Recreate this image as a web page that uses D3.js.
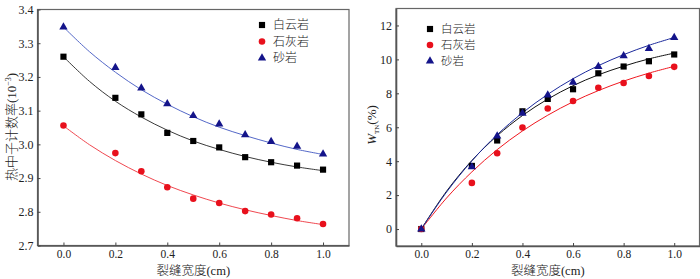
<!DOCTYPE html>
<html><head><meta charset="utf-8">
<script src="https://cdn.jsdelivr.net/npm/d3@7"></script>
<style>
html,body{margin:0;padding:0;background:#fff;}
svg{display:block;}
text{font-family:"Liberation Serif","Times New Roman",serif;fill:#222;}
.cjk{font-family:"Noto Sans CJK SC","Liberation Serif",serif;}
</style></head>
<body>
<svg id="c" width="700" height="279"></svg>
<script>
// ---- data ----
const seriesNames = ["白云岩", "石灰岩", "砂岩"];
const widths = [0, 0.2, 0.3, 0.4, 0.5, 0.6, 0.7, 0.8, 0.9, 1.0];
// thermal neutron count rate (10^-3)
const countDolomite  = [3.260, 3.138, 3.089, 3.034, 3.010, 2.991, 2.962, 2.947, 2.937, 2.925];
const countLimestone = [3.056, 2.974, 2.920, 2.873, 2.839, 2.826, 2.802, 2.792, 2.781, 2.764];
const countSandstone = [3.348, 3.228, 3.167, 3.120, 3.085, 3.060, 3.028, 3.008, 2.994, 2.971];
// W_TN (%)
const wDolomite  = [0, 3.72, 5.22, 6.94, 7.67, 8.24, 9.18, 9.58, 9.89, 10.29];
const wLimestone = [0, 2.72, 4.47, 5.99, 7.11, 7.55, 8.33, 8.61, 9.02, 9.56];
const wSandstone = [0, 3.66, 5.48, 6.82, 7.90, 8.65, 9.58, 10.21, 10.64, 11.29];
// fitted curves
const fitX = [0, 0.1, 0.2, 0.3, 0.4, 0.5, 0.6, 0.7, 0.8, 0.9, 1.0];
const fitCountDolomite  = [3.260, 3.187, 3.128, 3.081, 3.042, 3.010, 2.985, 2.964, 2.947, 2.933, 2.922];
const fitCountLimestone = [3.055, 2.999, 2.952, 2.912, 2.878, 2.850, 2.826, 2.806, 2.789, 2.774, 2.762];
const fitCountSandstone = [3.348, 3.275, 3.214, 3.162, 3.119, 3.082, 3.051, 3.026, 3.004, 2.985, 2.970];
const fitWDolomite  = [0, 2.23, 4.04, 5.50, 6.69, 7.66, 8.45, 9.09, 9.60, 10.03, 10.37];
const fitWLimestone = [0, 1.83, 3.37, 4.68, 5.78, 6.71, 7.50, 8.16, 8.72, 9.19, 9.59];
const fitWSandstone = [0, 2.18, 4.02, 5.56, 6.85, 7.94, 8.86, 9.63, 10.28, 10.83, 11.29];
const xTicks = [0, 0.2, 0.4, 0.6, 0.8, 1.0];
const countTicks = [2.7, 2.8, 2.9, 3.0, 3.1, 3.2, 3.3, 3.4];
const wTicks = [0, 2, 4, 6, 8, 10, 12];

// ---- style ----
const markerColors = ["#000000", "#e8101c", "#14148a"];
const leftLineColors = ["#3a3a3a", "#f04850", "#5468c8"];
const rightLineColors = ["#111111", "#f01820", "#1c2a9c"];
const symbols = [d3.symbolSquare, d3.symbolCircle, d3.symbolTriangle];
const symSizes = [38, 34, 30];

const svg = d3.select("#c");

function panel(cfg) {
  const g = svg.append("g");
  const x = d3.scaleLinear().domain([-0.1, 1.1]).range([cfg.left, cfg.right]);
  const y = d3.scaleLinear().domain(cfg.yDomain).range([cfg.bottom, cfg.top]);

  // frame
  g.append("rect").attr("x", cfg.left).attr("y", cfg.top)
    .attr("width", cfg.right - cfg.left).attr("height", cfg.bottom - cfg.top)
    .attr("fill", "none").attr("stroke", "#666").attr("stroke-width", 1.2);

  const xAxis = d3.axisBottom(x).tickValues(xTicks).tickFormat(d3.format(".1f"))
    .tickSizeInner(-3).tickSizeOuter(0).tickPadding(4);
  const xa = g.append("g").attr("transform", `translate(0,${cfg.bottom})`).call(xAxis);
  const yAxis = d3.axisLeft(y).tickValues(cfg.yTicks).tickFormat(cfg.yFormat)
    .tickSizeInner(-3).tickSizeOuter(0).tickPadding(4);
  const ya = g.append("g").attr("transform", `translate(${cfg.left},0)`).call(yAxis);
  [xa, ya].forEach(a => {
    a.select(".domain").attr("stroke", "#555").attr("stroke-width", 1.6);
    a.selectAll(".tick line").attr("stroke", "#444").attr("stroke-width", 1);
    a.selectAll(".tick text").attr("font-family", "Liberation Serif").attr("font-size", 12).attr("fill", "#222");
  });
  xa.selectAll(".tick text").attr("font-size", 11.5);

  const line = d3.line().x(d => x(d[0])).y(d => y(d[1])).curve(d3.curveCatmullRom);
  cfg.fits.forEach((f, i) => {
    g.append("path").datum(fitX.map((v, j) => [v, f[j]]))
      .attr("d", line).attr("fill", "none")
      .attr("stroke", cfg.lineColors[i]).attr("stroke-width", 1);
  });
  cfg.data.forEach((s, i) => {
    g.selectAll(null).data(widths.map((v, j) => [v, s[j]])).enter()
      .append("path")
      .attr("d", d3.symbol().type(symbols[i]).size(symSizes[i]))
      .attr("transform", d => `translate(${x(d[0])},${y(d[1])})`)
      .attr("fill", markerColors[i]);
  });

  // legend
  seriesNames.forEach((n, i) => {
    const ly = cfg.legendY[i];
    g.append("path").attr("d", d3.symbol().type(symbols[i]).size(symSizes[i]))
      .attr("transform", `translate(${cfg.legendX},${ly})`).attr("fill", markerColors[i]);
    g.append("text").attr("class", "cjk").attr("x", cfg.legendX + 11).attr("y", ly + 4)
      .attr("font-size", cfg.legendFont).attr("font-weight", 300).text(n);
  });

  // x title
  const xt = g.append("text").attr("x", (cfg.left + cfg.right) / 2).attr("y", 275.2)
    .attr("text-anchor", "middle").attr("font-size", 12.5);
  xt.append("tspan").attr("class", "cjk").attr("font-weight", 300).text("裂缝宽度");
  xt.append("tspan").text("(cm)");
  return {x, y, g};
}

// left panel
const L = panel({
  left: 37.5, right: 349, top: 9.5, bottom: 245.5,
  yDomain: [2.7, 3.4], yTicks: countTicks, yFormat: d3.format(".1f"),
  data: [countDolomite, countLimestone, countSandstone],
  fits: [fitCountDolomite, fitCountLimestone, fitCountSandstone],
  lineColors: leftLineColors,
  legendX: 262, legendY: [25, 41.5, 58], legendFont: 12
});
const yl = L.g.append("text").attr("transform", "translate(16,127) rotate(-90)")
  .attr("text-anchor", "middle").attr("font-size", 13);
yl.append("tspan").attr("class", "cjk").attr("font-weight", 300).text("热中子计数率");
yl.append("tspan").text("(10");
yl.append("tspan").attr("dy", -5).attr("font-size", 8).text("−3");
yl.append("tspan").attr("dy", 5).text(")");

// right panel
const R = panel({
  left: 396, right: 699.5, top: 8.5, bottom: 246,
  yDomain: [-1, 13], yTicks: wTicks, yFormat: d3.format("d"),
  data: [wDolomite, wLimestone, wSandstone],
  fits: [fitWDolomite, fitWLimestone, fitWSandstone],
  lineColors: rightLineColors,
  legendX: 430, legendY: [29, 45, 61], legendFont: 11.5
});
const yr = R.g.append("text").attr("transform", "translate(376,125) rotate(-90)")
  .attr("text-anchor", "middle").attr("font-size", 13);
yr.append("tspan").attr("font-style", "italic").text("W");
yr.append("tspan").attr("dy", 3).attr("font-size", 7).text("TN");
yr.append("tspan").attr("dy", -3).text("(%)");
</script>
</body></html>
